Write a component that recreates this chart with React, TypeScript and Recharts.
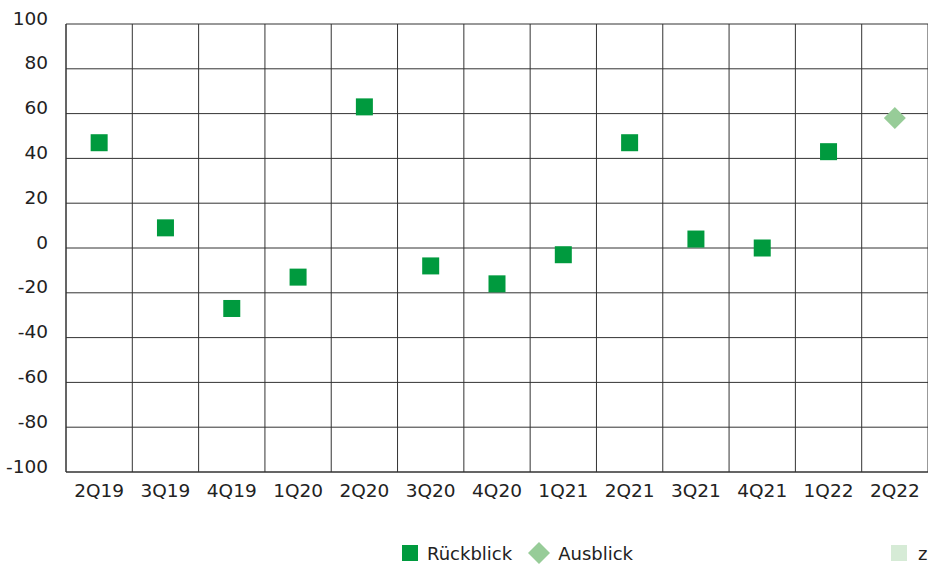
import React from 'react';
import { ComposedChart, Line, XAxis, YAxis, CartesianGrid } from 'recharts';

const quarters = ['2Q19', '3Q19', '4Q19', '1Q20', '2Q20', '3Q20', '4Q20', '1Q21', '2Q21', '3Q21', '4Q21', '1Q22', '2Q22'];
const rueckblick = [47, 9, -27, -13, 63, -8, -16, -3, 47, 4, 0, 43, null];
const ausblick = [null, null, null, null, null, null, null, null, null, null, null, null, 58];
const yTicks = [-100, -80, -60, -40, -20, 0, 20, 40, 60, 80, 100];

const data = quarters.map((q, i) => ({ q, rueckblick: rueckblick[i], ausblick: ausblick[i] }));

const DARK = '#009a3e';
const LIGHT = '#97cc98';
const PALE = '#d6ebd6';
const FONT = '"DejaVu Sans", sans-serif';

function SquareDot(props: any) {
  const { cx, cy, value, index } = props;
  if (value == null || cy == null) return <g key={`s-${index}`} />;
  return <rect key={`s-${index}`} x={cx - 8.5} y={cy - 8.5} width={17} height={17} fill={DARK} />;
}

function DiamondDot(props: any) {
  const { cx, cy, value, index } = props;
  if (value == null || cy == null) return <g key={`d-${index}`} />;
  const r = 11;
  return (
    <polygon
      key={`d-${index}`}
      points={`${cx},${cy - r} ${cx + r},${cy} ${cx},${cy + r} ${cx - r},${cy}`}
      fill={LIGHT}
    />
  );
}

// labels sit a bit above their grid lines in the original
function YTick({ x, y, payload }: any) {
  return (
    <text x={x - 10} y={y - 6} dy="0.355em" textAnchor="end" fontSize={18.5} fontFamily={FONT} fill="#222">
      {payload.value}
    </text>
  );
}

const legendText: React.CSSProperties = { fontSize: 18, fontFamily: FONT, color: '#222' };

export default function App() {
  const n = quarters.length;
  return (
    <div style={{ position: 'absolute', left: 0, top: 0, width: 928, height: 564, background: '#fff' }}>
      <ComposedChart width={928} height={564} data={data} margin={{ top: 24, right: 0, left: 0, bottom: 62 }}>
        <CartesianGrid
          stroke="#333"
          verticalCoordinatesGenerator={({ offset }: any) =>
            Array.from({ length: n + 1 }, (_, i) => offset.left + (i * offset.width) / n)
          }
        />
        <XAxis
          dataKey="q"
          scale="band"
          tickLine={false}
          axisLine={{ stroke: '#333' }}
          tickSize={10}
          tickMargin={2}
          tick={{ fontSize: 18.5, fontFamily: FONT, fill: '#222' }}
          interval={0}
          height={30}
        />
        <YAxis
          domain={[-100, 100]}
          ticks={yTicks}
          width={66}
          tickLine={false}
          axisLine={{ stroke: '#333' }}
          tick={<YTick />}
          interval={0}
        />
        <Line
          dataKey="rueckblick"
          name="Rückblick"
          stroke="none"
          dot={SquareDot}
          activeDot={false}
          connectNulls={false}
          isAnimationActive={false}
        />
        <Line
          dataKey="ausblick"
          name="Ausblick"
          stroke="none"
          dot={DiamondDot}
          activeDot={false}
          isAnimationActive={false}
        />
      </ComposedChart>
      <div style={{ position: 'absolute', top: 543, left: 402, display: 'flex', alignItems: 'center', height: 20 }}>
        <span style={{ width: 16, height: 16, background: DARK, display: 'inline-block', marginRight: 9 }} />
        <span style={legendText}>Rückblick</span>
        <svg width={24} height={24} style={{ marginLeft: 15, marginRight: 7 }}>
          <polygon points="12,1 23,12 12,23 1,12" fill={LIGHT} />
        </svg>
        <span style={legendText}>Ausblick</span>
      </div>
      <div style={{ position: 'absolute', top: 543, left: 891, display: 'flex', alignItems: 'center', height: 20 }}>
        <span style={{ width: 16, height: 16, background: PALE, display: 'inline-block', marginRight: 11 }} />
        <span style={legendText}>z</span>
      </div>
    </div>
  );
}
